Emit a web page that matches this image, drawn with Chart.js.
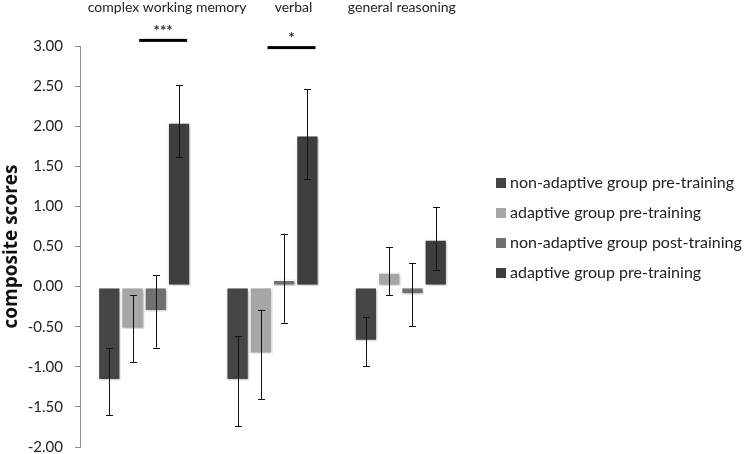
<!DOCTYPE html>
<html>
<head>
<meta charset="utf-8">
<script src="https://cdn.jsdelivr.net/npm/chart.js@4"></script>
<style>
  html, body { margin: 0; padding: 0; background: #fff; }
  #wrap { width: 750px; height: 454px; }
</style>
</head>
<body>
<div id="wrap"><canvas id="scores"></canvas></div>
<script>
// categories and series
var categories = ['complex working memory', 'verbal', 'general reasoning'];
var seriesNames = ['non-adaptive group pre-training', 'adaptive group pre-training',
                   'non-adaptive group post-training', 'adaptive group pre-training'];

var nonAdaptivePre  = [-1.17, -1.17, -0.68];
var adaptivePre     = [-0.53, -0.84, 0.18];
var nonAdaptivePost = [-0.31, 0.09, -0.10];
var adaptivePost    = [2.05, 1.89, 0.59];

// error bar ends [low, high]
var nonAdaptivePreErr  = [[-1.60, -0.77], [-1.74, -0.62], [-0.99, -0.38]];
var adaptivePreErr     = [[-0.94, -0.11], [-1.40, -0.29], [-0.11, 0.49]];
var nonAdaptivePostErr = [[-0.76, 0.14], [-0.45, 0.66], [-0.49, 0.29]];
var adaptivePostErr    = [[1.62, 2.51], [1.34, 2.46], [0.21, 0.99]];

// significance markers above groups
var sigStars = ['***', '*', ''];
var sigLevel = [3.07, 2.98, null];

var yTicks = [-2, -1.5, -1, -0.5, 0, 0.5, 1, 1.5, 2, 2.5, 3];

var FONT = 'Lato, "Open Sans", sans-serif';
var colors = ['#454545', '#a6a6a6', '#707070', '#3e3e3e'];
var values = [nonAdaptivePre, adaptivePre, nonAdaptivePost, adaptivePost];
var errs = [nonAdaptivePreErr, adaptivePreErr, nonAdaptivePostErr, adaptivePostErr];

var datasets = [];
for (var i = 0; i < values.length; i++) {
  datasets.push({
    label: seriesNames[i],
    data: values[i],
    errors: errs[i],
    backgroundColor: colors[i],
    borderColor: '#ffffff',
    borderWidth: 1.5,
    borderSkipped: false
  });
}

// soft shadow behind the bars
var shadowPlugin = {
  id: 'shadow',
  beforeDatasetsDraw: function(chart) {
    var ctx = chart.ctx;
    ctx.save();
    ctx.shadowColor = 'rgba(0,0,0,0.3)';
    ctx.shadowBlur = 3;
    ctx.shadowOffsetX = 1;
    ctx.shadowOffsetY = 1;
  },
  afterDatasetsDraw: function(chart) {
    chart.ctx.restore();
  }
};

var errorBars = {
  id: 'errorBars',
  afterDatasetsDraw: function(chart) {
    var ctx = chart.ctx, y = chart.scales.y;
    ctx.save();
    ctx.strokeStyle = '#111';
    ctx.lineWidth = 1;
    chart.data.datasets.forEach(function(ds, di) {
      var meta = chart.getDatasetMeta(di);
      meta.data.forEach(function(bar, j) {
        var e = ds.errors[j];
        var x = Math.round(bar.x) + 0.5;
        var y1 = y.getPixelForValue(e[0]), y2 = y.getPixelForValue(e[1]);
        ctx.beginPath();
        ctx.moveTo(x, y1); ctx.lineTo(x, y2);
        ctx.moveTo(x - 3.5, Math.round(y1) + 0.5); ctx.lineTo(x + 3.5, Math.round(y1) + 0.5);
        ctx.moveTo(x - 3.5, Math.round(y2) + 0.5); ctx.lineTo(x + 3.5, Math.round(y2) + 0.5);
        ctx.stroke();
      });
    });
    ctx.restore();
  }
};

// group titles, significance lines and the legend
var titleShift = [23, 21, 1];
var annotations = {
  id: 'annotations',
  afterDraw: function(chart) {
    var ctx = chart.ctx, xs = chart.scales.x, ys = chart.scales.y;
    ctx.save();
    ctx.fillStyle = '#222';
    ctx.font = '14px ' + FONT;
    ctx.textAlign = 'center';
    ctx.textBaseline = 'middle';
    categories.forEach(function(c, i) {
      ctx.fillText(c, xs.getPixelForValue(i) + titleShift[i], 7);
    });
    categories.forEach(function(c, i) {
      if (sigLevel[i] === null) return;
      var cx = xs.getPixelForValue(i);
      var ly = ys.getPixelForValue(sigLevel[i]);
      ctx.fillStyle = '#000';
      ctx.fillRect(cx - 5, ly - 1.5, 48, 3);
      ctx.font = 'bold 15px ' + FONT;
      ctx.fillStyle = '#333';
      ctx.fillText(sigStars[i], cx + 19, ly - 9);
    });
    // legend
    var lx = chart.chartArea.right + 31;
    ctx.textAlign = 'left';
    ctx.font = '16px ' + FONT;
    chart.data.datasets.forEach(function(ds, i) {
      var cy = 183 + i * 30;
      ctx.fillStyle = ds.backgroundColor;
      ctx.fillRect(lx, cy - 5, 10, 10);
      ctx.fillStyle = '#222';
      ctx.fillText(ds.label, lx + 14, cy);
    });
    ctx.restore();
  }
};

new Chart(document.getElementById('scores').getContext('2d'), {
  type: 'bar',
  data: { labels: categories, datasets: datasets },
  options: {
    responsive: true,
    maintainAspectRatio: false,
    animation: false,
    layout: { padding: { top: 46, right: 285, left: 0, bottom: 0 } },
    datasets: { bar: { categoryPercentage: 0.725, barPercentage: 1 } },
    plugins: { legend: { display: false }, tooltip: { enabled: false } },
    scales: {
      x: { display: false },
      y: {
        min: -2, max: 3,
        afterFit: function(s) { s.width = 80; s.paddingBottom = 7; s.paddingTop = 0; },
        afterBuildTicks: function(s) { s.ticks = yTicks.map(function(v) { return { value: v }; }); },
        border: { display: true, color: '#8c8c8c', width: 1 },
        grid: { drawOnChartArea: false, tickLength: 5, color: '#8c8c8c' },
        ticks: {
          padding: 12,
          color: '#222',
          font: { family: FONT, size: 15, lineHeight: 1 },
          callback: function(v) { return v.toFixed(2); }
        },
        title: {
          display: true,
          text: 'composite scores',
          color: '#111',
          font: { family: '"Open Sans", "Liberation Sans", sans-serif', size: 19, weight: 'bold' },
          padding: { top: 0, bottom: 0 }
        }
      }
    }
  },
  plugins: [shadowPlugin, errorBars, annotations]
});
</script>
</body>
</html>
